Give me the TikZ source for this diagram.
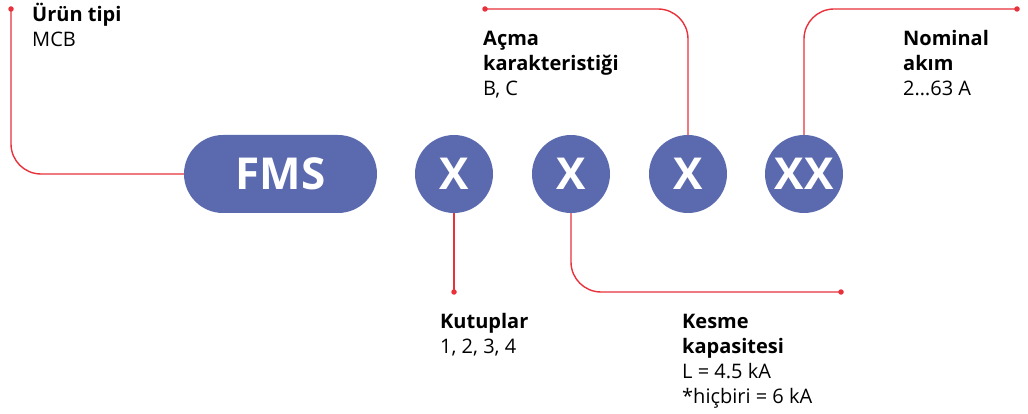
\documentclass[tikz,border=0pt]{standalone}
\usepackage{fontspec}
\setmainfont{Open Sans}
\definecolor{pillblue}{HTML}{5B6AAF}
\definecolor{abbred}{HTML}{E8313B}
\begin{document}
\begin{tikzpicture}[x=1pt,y=-1pt,
  conn/.style={abbred, line width=1.4pt, rounded corners=30pt},
  dotc/.style={circle, fill=abbred, inner sep=0pt, minimum size=5.5pt},
  pill/.style={fill=pillblue, text=white, font=\fontsize{44}{44}\selectfont\bfseries, rounded corners=39pt, minimum width=193pt, minimum height=78pt, inner sep=0pt},
  code/.style={circle, fill=pillblue, text=white, font=\fontsize{44}{44}\selectfont\bfseries, minimum size=78pt, inner sep=0pt},
  lbl/.style={anchor=base west, align=left, inner sep=0pt, font=\fontsize{20}{25}\selectfont, text=black}
]
\useasboundingbox (0,0) rectangle (1028,414);
\node[pill] (fms) at (280.5,174) {FMS};
\node[code] (x1) at (454,174) {X};
\node[code] (x2) at (571,174) {X};
\node[code] (x3) at (688,174) {X};
\node[code] (x4) at (804,174) {XX};

\node[dotc] (d1) at (11,9) {};
\node[dotc] (d2) at (485,9) {};
\node[dotc] (d3) at (1017,9) {};
\node[dotc] (d4) at (454,292) {};
\node[dotc] (d5) at (841,292) {};

\draw[conn] (d1.center) |- (fms.west);
\draw[conn] (d2.center) -| (x3.north);
\draw[conn] (x4.north) |- (d3.center);
\draw[conn] (x1.south) -- (d4.center);
\draw[conn] (x2.south) |- (d5.center);

% base anchor = baseline of the last line
\node[lbl] (l1) at (32,47) {\textbf{Ürün tipi}\\MCB};
\node[lbl] (l2) at (483,96) {\textbf{Açma}\\\textbf{karakteristiği}\\B, C};
\node[lbl] (l3) at (903,96) {\textbf{Nominal}\\\textbf{akım}\\2…63 A};
\node[lbl] (l4) at (440,353) {\textbf{Kutuplar}\\1, 2, 3, 4};
\node[lbl] (l5) at (682,403) {\textbf{Kesme}\\\textbf{kapasitesi}\\L = 4.5 kA\\*hiçbiri = 6 kA};
\end{tikzpicture}
\end{document}
